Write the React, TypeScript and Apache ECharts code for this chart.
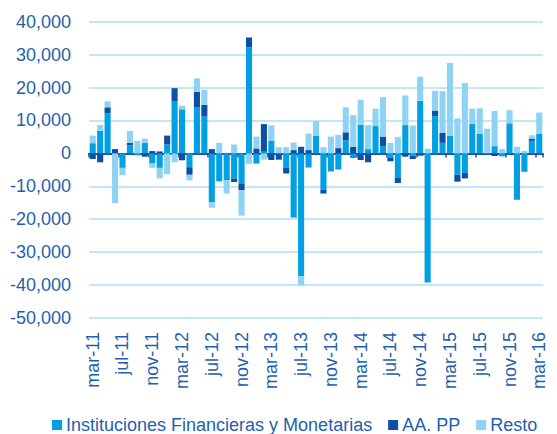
import React, { useEffect, useRef } from "react";
import * as echarts from "echarts";

const months = ["ene", "feb", "mar", "abr", "may", "jun", "jul", "ago", "sep", "oct", "nov", "dic"];
const startMonthIndex = 2; // mar
const startYear = 11;
const categoryCount = 61;
const categories: string[] = [];
for (let i = 0; i < categoryCount; i++) {
  const m = (startMonthIndex + i) % 12;
  const y = startYear + Math.floor((startMonthIndex + i) / 12);
  categories.push(`${months[m]}-${y}`);
}

const ifm = [
  3100, 6900, 12200, 0, -4400, 2500, -600, 3200, -3100, -4400,
  2700, 15900, 13400, -4200, 13900, 11200, -14800, -8500, -8200, -7700,
  -9300, 32200, -3100, 500, 3900, 0, -4400, -19500, -37300, -4300,
  5300, -11000, -5500, -4900, 4000, -1400, 8700, 1300, 8300, 2200,
  -1200, -7500, 8600, -700, 16000, -39200, 11300, 3200, 5300, -6500,
  -5900, 8900, 5900, 0, 2200, -900, 8800, -14100, -5600, 3800,
  5900,
];
const aapp = [
  -1700, -2700, 1800, 1300, 0, 700, 0, -1000, 700, 600,
  2700, 3900, -2100, -2300, 4800, 3500, 1300, 0, 0, -1000,
  -1900, 3000, 1500, 8400, -2000, -1900, -1700, 1000, 2000, 1000,
  0, -1200, 0, 1600, 2400, 2000, -2000, -2700, 0, 2900,
  -1200, -1500, -1000, -1000, -700, 0, 1700, 3000, 0, -2100,
  -1700, 0, 0, 0, -800, 0, 300, 0, 0, 700,
  0,
];
const resto = [
  2300, 1700, 1800, -15100, -2200, 3600, 3800, 1300, -1300, -3200,
  -6300, -2700, 1100, -1700, 4100, 4600, -1700, 3200, -4000, 2700,
  -7700, -3200, 3600, -1900, 4600, 1900, 1900, 2300, -2800, 5000,
  4500, 1900, 5100, 4000, 7600, 9600, 7600, 7300, 5300, 12000,
  3200, 5000, 9000, 8500, 7300, 1400, 6000, 12700, 22200, 10600,
  21400, 4700, 7800, 7500, 10700, 1300, 4000, 2000, 800, 1000,
  6500,
];

const seriesNames = ["Instituciones Financieras y Monetarias", "AA. PP", "Resto"];
const seriesColors = ["#00a0e3", "#0d4fa3", "#8fd3f4"];
const textColor = "#1f5fae";
const gridColor = "#c4e7f7";
const FONT = "'Liberation Sans', Arial, sans-serif";

export default function App() {
  const ref = useRef<HTMLDivElement>(null);
  useEffect(() => {
    document.body.style.margin = "0";
    if (!ref.current) return;
    const chart = echarts.init(ref.current, undefined, { renderer: "svg" });
    const dataSets = [ifm, aapp, resto];
    chart.setOption({
      animation: false,
      textStyle: { fontFamily: FONT },
      grid: { left: 89, right: 14, top: 21.7, bottom: 116, containLabel: false },
      legend: {
        left: 47,
        top: 411,
        itemWidth: 10,
        itemHeight: 10,
        itemGap: 16,
        icon: "rect",
        textStyle: { color: textColor, fontSize: 18, lineHeight: 18, fontFamily: FONT, padding: [0, 0, 0, -1] },
        data: seriesNames,
      },
      xAxis: [
        {
          type: "category",
          data: categories,
          position: "bottom",
          axisLine: { show: false, onZero: false },
          axisTick: { show: false },
          axisLabel: {
            interval: 3,
            rotate: 90,
            margin: 14,
            color: textColor,
            fontSize: 18,
            fontFamily: FONT,
          },
          splitLine: { show: false },
        },
        {
          type: "category",
          data: categories,
          position: "top",
          axisLine: { show: true, onZero: true, lineStyle: { color: "#1f4f9f", width: 2 } },
          axisTick: { show: true, interval: 3, inside: true, length: 4, lineStyle: { color: "#1f4f9f", width: 1.5 } },
          axisLabel: { show: false },
          splitLine: { show: false },
        },
      ],
      yAxis: {
        type: "value",
        min: -50000,
        max: 40000,
        interval: 10000,
        axisLine: { show: false },
        axisTick: { show: false },
        axisLabel: {
          margin: 18,
          color: textColor,
          fontSize: 18,
          fontFamily: FONT,
          formatter: (v: number) => v.toLocaleString("en-US"),
        },
        splitLine: { show: true, lineStyle: { color: gridColor, width: 2 } },
      },
      series: seriesNames.map((name, k) => ({
        name,
        type: "bar",
        stack: "total",
        xAxisIndex: 0,
        barCategoryGap: "18%",
        itemStyle: { color: seriesColors[k] },
        data: dataSets[k],
        z: 2,
      })),
    });
    return () => chart.dispose();
  }, []);
  return <div ref={ref} style={{ width: 557, height: 434 }} />;
}
